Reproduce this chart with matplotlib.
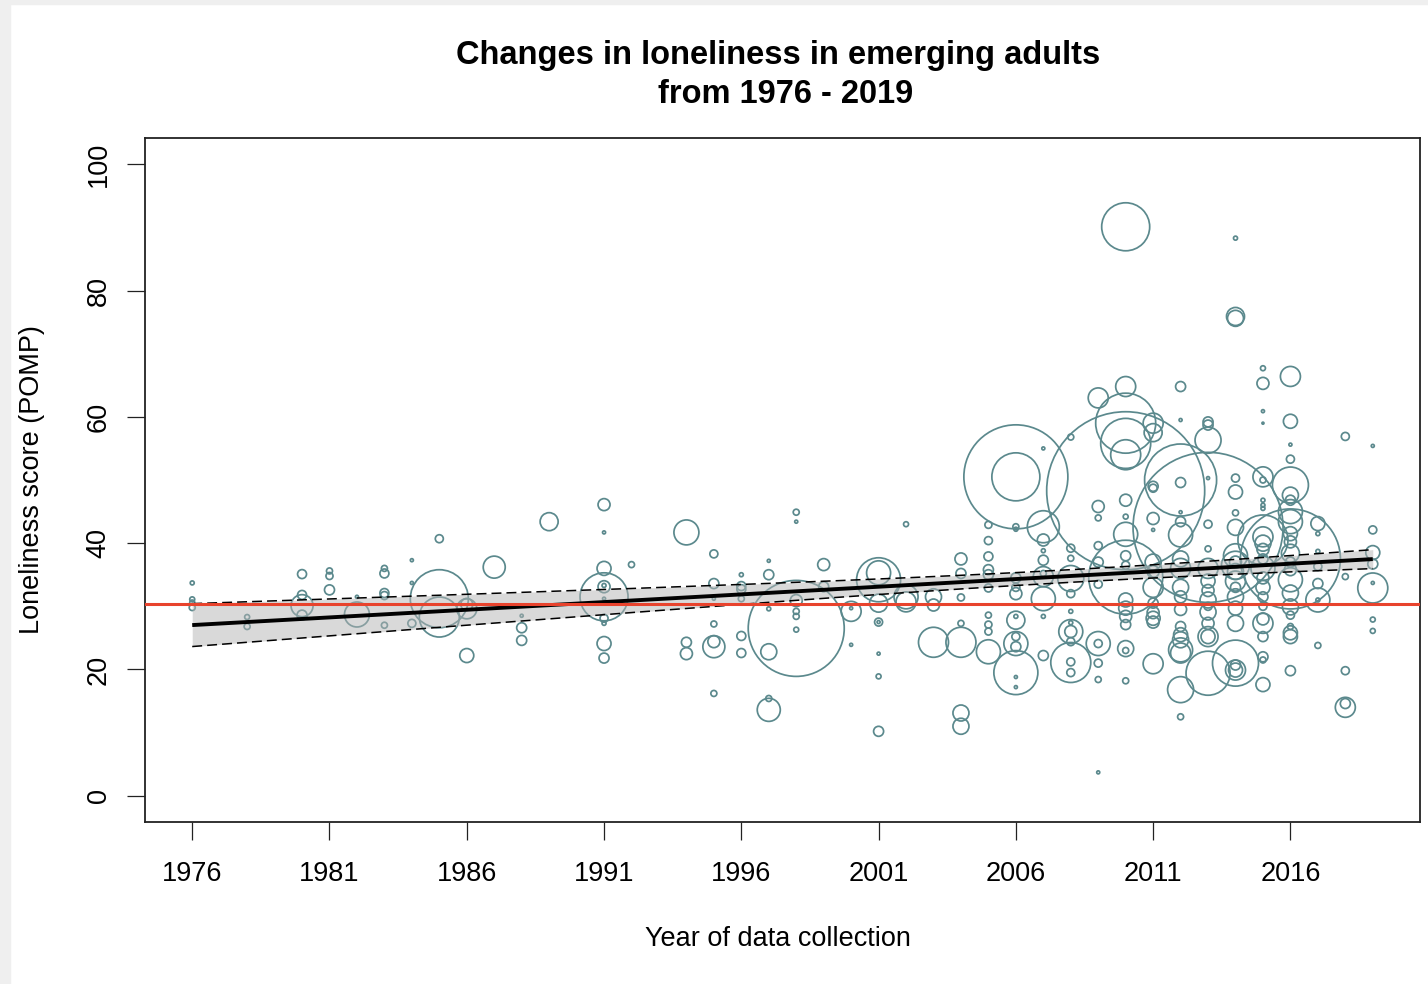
import matplotlib
matplotlib.use("Agg")
import matplotlib.pyplot as plt
import numpy as np
from matplotlib.patches import Rectangle

plt.rcParams["font.family"] = ["Liberation Sans", "DejaVu Sans"]

# one entry per study sample: year of data collection, mean loneliness (POMP), study weight
year = [
    1976, 1976, 1976, 1976,
    1978, 1978,
    1980, 1980, 1980, 1980,
    1981, 1981, 1981,
    1982, 1982,
    1983, 1983, 1983, 1983, 1983,
    1984, 1984, 1984,
    1985, 1985, 1985,
    1986, 1986, 1986,
    1987,
    1988, 1988, 1988,
    1989,
    1991, 1991, 1991, 1991, 1991, 1991, 1991, 1991, 1991, 1991, 1991,
    1992,
    1994, 1994, 1994,
    1995, 1995, 1995, 1995, 1995, 1995, 1995,
    1996, 1996, 1996, 1996, 1996, 1996,
    1997, 1997, 1997, 1997, 1997, 1997,
    1998, 1998, 1998, 1998, 1998, 1998, 1998,
    1999, 1999,
    2000, 2000, 2000,
    2001, 2001, 2001, 2001, 2001, 2001, 2001, 2001,
    2002, 2002, 2002,
    2003, 2003, 2003,
    2004, 2004, 2004, 2004, 2004, 2004, 2004,
    2005, 2005, 2005, 2005, 2005, 2005, 2005, 2005, 2005, 2005,
    2006, 2006, 2006, 2006, 2006, 2006, 2006, 2006, 2006, 2006, 2006, 2006, 2006, 2006, 2006,
    2007, 2007, 2007, 2007, 2007, 2007, 2007, 2007, 2007, 2007,
    2008, 2008, 2008, 2008, 2008, 2008, 2008, 2008, 2008, 2008, 2008, 2008, 2008,
    2009, 2009, 2009, 2009, 2009, 2009, 2009, 2009, 2009, 2009, 2009,
    2010, 2010, 2010, 2010, 2010, 2010, 2010, 2010, 2010, 2010,
    2010, 2010, 2010, 2010, 2010, 2010, 2010, 2010, 2010,
    2011, 2011, 2011, 2011, 2011, 2011, 2011, 2011, 2011, 2011, 2011, 2011, 2011, 2011,
    2012, 2012, 2012, 2012, 2012, 2012, 2012, 2012, 2012, 2012,
    2012, 2012, 2012, 2012, 2012, 2012, 2012, 2012, 2012,
    2013, 2013, 2013, 2013, 2013, 2013, 2013, 2013, 2013, 2013,
    2013, 2013, 2013, 2013, 2013, 2013, 2013,
    2014, 2014, 2014, 2014, 2014, 2014, 2014, 2014, 2014, 2014,
    2014, 2014, 2014, 2014, 2014, 2014, 2014, 2014, 2014, 2014,
    2015, 2015, 2015, 2015, 2015, 2015, 2015, 2015, 2015, 2015, 2015, 2015, 2015,
    2015, 2015, 2015, 2015, 2015, 2015, 2015, 2015, 2015, 2015, 2015, 2015,
    2016, 2016, 2016, 2016, 2016, 2016, 2016, 2016, 2016, 2016, 2016, 2016,
    2016, 2016, 2016, 2016, 2016, 2016, 2016, 2016, 2016, 2016, 2016,
    2017, 2017, 2017, 2017, 2017, 2017, 2017, 2017,
    2018, 2018, 2018, 2018, 2018,
    2019, 2019, 2019, 2019, 2019, 2019, 2019, 2019,
]

score = [
    33.7, 31.1, 30.6, 29.8,
    28.3, 26.8,
    35.1, 31.8, 30.1, 28.6,
    35.6, 34.8, 32.6,
    28.7, 31.5,
    36.0, 35.2, 32.1, 31.7, 27.0,
    37.3, 33.7, 27.3,
    40.7, 31.2, 28.3,
    29.6, 30.3, 22.2,
    36.2,
    28.5, 26.6, 24.6,
    43.4,
    46.1, 41.7, 36.0, 33.1, 33.3, 31.5, 31.2, 28.1, 27.3, 24.1, 21.8,
    36.6,
    41.7, 24.3, 22.5,
    38.3, 33.6, 31.2, 27.2, 23.6, 24.4, 16.2,
    35.0, 33.2, 32.7, 31.2, 25.3, 22.6,
    37.2, 35.0, 29.6, 22.8, 15.4, 13.6,
    44.9, 43.4, 30.9, 29.2, 28.4, 26.3, 26.5,
    36.6, 33.1,
    29.7, 23.9, 29.2,
    34.2, 35.3, 30.5, 27.5, 27.5, 22.5, 18.9, 10.2,
    43.0, 31.5, 30.7,
    31.5, 30.2, 24.3,
    37.5, 35.2, 31.4, 27.3, 24.3, 13.1, 11.0,
    42.9, 40.4, 37.9, 35.8, 35.0, 32.9, 28.6, 27.1, 26.0, 22.8,
    50.5, 50.5, 42.6, 42.2, 34.5, 33.0, 32.0, 28.4, 27.8, 25.2, 24.1, 23.6, 19.5, 18.8, 17.2,
    55.0, 42.6, 40.5, 38.8, 37.3, 35.2, 34.7, 31.2, 28.4, 22.2,
    56.8, 39.2, 37.6, 34.4, 32.0, 29.2, 27.4, 26.0, 26.0, 24.4, 21.1, 21.2, 19.5,
    63.0, 45.8, 44.0, 39.6, 37.0, 33.5, 24.1, 24.1, 21.0, 18.4, 3.7,
    90.1, 64.8, 59.0, 55.8, 54.0, 48.3, 46.8, 44.2, 41.4, 38.0,
    36.5, 34.6, 31.0, 29.7, 28.4, 27.1, 23.3, 23.0, 18.2,
    59.0, 57.5, 49.0, 48.7, 43.9, 42.1, 37.0, 35.5, 33.0, 30.5, 29.0, 28.1, 27.5, 20.9,
    64.8, 59.5, 50.0, 49.6, 44.9, 43.4, 41.3, 37.5, 36.0, 33.0,
    31.5, 29.5, 26.8, 25.5, 24.7, 23.1, 22.6, 16.8, 12.5,
    59.2, 58.7, 56.3, 50.3, 43.0, 42.5, 39.1, 36.0, 34.0, 32.5,
    31.0, 30.0, 29.1, 27.3, 25.2, 25.2, 19.4,
    88.3, 75.9, 75.6, 50.3, 48.1, 44.8, 42.5, 38.0, 37.0, 36.5,
    35.5, 34.0, 33.0, 31.5, 29.7, 27.3, 21.0, 20.7, 19.9, 19.9,
    67.7, 65.3, 60.9, 59.0, 50.5, 50.0, 46.8, 46.0, 45.5, 41.0, 40.5, 40.0, 39.0,
    37.5, 36.0, 34.5, 33.0, 31.5, 30.0, 28.0, 27.3, 25.2, 22.0, 21.5, 17.6,
    66.4, 59.3, 55.6, 53.3, 49.2, 47.6, 46.8, 45.0, 43.4, 41.5, 40.2, 38.4,
    37.5, 37.0, 35.8, 34.2, 32.1, 29.9, 28.6, 26.8, 25.8, 25.2, 19.8,
    43.1, 41.5, 38.7, 36.3, 33.6, 31.0, 31.0, 23.8,
    56.9, 34.7, 19.8, 14.6, 14.0,
    55.4, 42.1, 38.5, 36.7, 33.7, 32.9, 27.9, 26.1,
]

weight = [
    0.50, 0.62, 0.62, 0.75,
    0.62, 0.75,
    1.12, 1.12, 2.75, 1.25,
    0.75, 0.88, 1.25,
    3.12, 0.38,
    0.75, 1.12, 1.12, 1.00, 0.75,
    0.38, 0.38, 1.00,
    1.00, 7.25, 5.00,
    2.50, 1.50, 1.75,
    2.75,
    0.38, 1.25, 1.25,
    2.25,
    1.50, 0.38, 1.75, 1.50, 0.50, 6.00, 0.38, 1.00, 0.50, 1.75, 1.25,
    0.75,
    3.12, 1.25, 1.50,
    1.00, 1.25, 0.38, 0.75, 2.75, 1.50, 0.75,
    0.50, 1.12, 1.12, 0.75, 1.12, 1.12,
    0.38, 1.25, 0.50, 2.00, 0.75, 2.88,
    0.75, 0.38, 1.50, 0.75, 0.75, 0.62, 12.00,
    1.50, 1.25,
    0.38, 0.38, 2.50,
    5.50, 3.00, 2.25, 1.00, 0.38, 0.38, 0.62, 1.25,
    0.62, 3.00, 2.50,
    2.00, 1.50, 3.75,
    1.50, 1.25, 0.88, 0.75, 3.75, 2.00, 2.00,
    0.88, 1.00, 1.12, 1.25, 1.25, 1.00, 0.75, 0.88, 0.88, 3.00,
    13.00, 6.00, 0.75, 0.50, 1.25, 1.00, 1.50, 0.50, 2.25, 1.00, 3.00, 1.25, 5.50, 0.38, 0.38,
    0.38, 4.00, 1.50, 0.50, 1.25, 0.75, 2.50, 3.00, 0.50, 1.25,
    0.75, 1.00, 0.75, 3.25, 1.00, 0.50, 0.50, 3.00, 1.50, 1.00, 5.00, 1.00, 1.00,
    2.50, 1.50, 0.75, 1.00, 1.25, 1.00, 3.00, 1.00, 1.00, 0.75, 0.38,
    6.00, 2.50, 7.50, 6.25, 3.75, 19.75, 1.50, 0.62, 3.00, 1.25,
    1.00, 9.25, 1.75, 1.75, 1.50, 1.25, 2.00, 0.75, 0.75,
    2.50, 2.25, 1.25, 1.00, 1.50, 0.38, 2.00, 1.50, 2.50, 1.25, 1.50, 1.75, 1.50, 2.50,
    1.25, 0.38, 9.00, 1.25, 0.38, 1.25, 3.00, 2.00, 2.50, 2.00,
    1.50, 1.50, 1.25, 1.75, 2.00, 3.00, 2.50, 3.25, 0.75,
    1.25, 1.25, 3.25, 0.38, 1.00, 18.75, 0.75, 2.50, 1.75, 1.50,
    2.00, 1.00, 2.00, 1.50, 1.75, 2.50, 5.50,
    0.50, 2.25, 2.00, 1.00, 1.75, 0.75, 2.00, 3.00, 1.50, 3.50,
    2.00, 2.50, 1.25, 2.00, 1.75, 2.00, 5.75, 1.25, 1.75, 2.50,
    0.62, 1.50, 0.38, 0.25, 2.50, 0.75, 0.50, 0.50, 0.50, 2.50, 6.25, 2.00, 1.50,
    1.25, 3.00, 1.50, 1.75, 1.25, 1.00, 1.50, 2.50, 1.25, 1.25, 0.75, 1.75,
    2.50, 1.75, 0.38, 1.00, 4.50, 2.00, 1.25, 3.00, 3.00, 1.75, 1.50, 2.25,
    12.50, 1.25, 1.50, 3.00, 2.00, 2.00, 1.00, 0.75, 1.75, 1.75, 1.25,
    1.75, 0.50, 0.50, 1.00, 1.25, 3.00, 0.50, 0.75,
    1.00, 0.75, 1.00, 1.25, 2.50,
    0.38, 1.00, 1.75, 1.25, 0.38, 3.75, 0.62, 0.62,
]

# weighted meta-regression of loneliness on year, centred at 2008
fit_year0 = 2008
fit_b0 = 34.8
fit_b1 = 0.243
fit_se_b0 = 0.51
fit_se_b1 = 0.0518
fit_years = (1976, 2019)

# pooled 1976 level used as the reference line
reference_score = 30.4

x_ticks = [1976, 1981, 1986, 1991, 1996, 2001, 2006, 2011, 2016]
y_ticks = [0, 20, 40, 60, 80, 100]

circle_color = "#5B898D"
DPI = 100
PX_PER_WEIGHT = 4.0

fig = plt.figure(figsize=(14.28, 9.84), dpi=DPI)
fig.patches.append(Rectangle((0, 0), 10 / 1428, 1, transform=fig.transFigure,
                             color="#EFEFEF", zorder=-10))
fig.patches.append(Rectangle((0, 1 - 4 / 984), 1, 4 / 984, transform=fig.transFigure,
                             color="#EFEFEF", zorder=-10))

ax = fig.add_axes([145 / 1428, 1 - 822 / 984, 1275 / 1428, 684 / 984])

# circles sized by study weight (radius in pixels -> marker area in pt^2)
w = np.asarray(weight)
diam_pt = 2 * PX_PER_WEIGHT * w * 72 / DPI
ax.scatter(year, score, s=diam_pt ** 2, facecolors="none",
           edgecolors=circle_color, linewidths=1.25, zorder=2)

xs = np.linspace(fit_years[0], fit_years[1], 200)
fit = fit_b0 + fit_b1 * (xs - fit_year0)
se = np.sqrt(fit_se_b0 ** 2 + (xs - fit_year0) ** 2 * fit_se_b1 ** 2)
lo, hi = fit - 1.96 * se, fit + 1.96 * se

ax.fill_between(xs, lo, hi, color="#B4B4B4", alpha=0.5, lw=0, zorder=3)
ax.plot(xs, fit, color="black", lw=2.8, solid_capstyle="butt", zorder=4)
ax.plot(xs, lo, color="black", lw=1.1, ls=(0, (6.5, 3.3)), zorder=4)
ax.plot(xs, hi, color="black", lw=1.1, ls=(0, (6.5, 3.3)), zorder=4)
ax.axhline(reference_score, color="#E8432D", lw=2.2, zorder=5)

ax.set_xlim(1974.28, 2020.72)
ax.set_ylim(-4.16, 104.16)
ax.set_xticks(x_ticks)
ax.set_yticks(y_ticks)
ax.set_yticklabels([str(t) for t in y_ticks], rotation=90, va="center")
ax.tick_params(axis="both", length=13, width=0.9, labelsize=19.5, color="#222222")
ax.tick_params(axis="x", pad=15)
ax.tick_params(axis="y", pad=11)
for side in ax.spines.values():
    side.set_linewidth(1.3)
    side.set_color("#222222")

cx = 778 / 1428
fig.text(cx, 1 - 64 / 984, "Changes in loneliness in emerging adults",
         ha="center", va="baseline", fontsize=23.5, fontweight="bold")
fig.text(786 / 1428, 1 - 103 / 984, "from 1976 - 2019",
         ha="center", va="baseline", fontsize=23.5, fontweight="bold")
fig.text(cx, 1 - 939 / 984, "Year of data collection",
         ha="center", va="center", fontsize=19.5)
fig.text(32 / 1428, 1 - 480 / 984, "Loneliness score (POMP)",
         ha="center", va="center", rotation=90, fontsize=19.5)

fig.savefig("out.png", dpi=DPI)
